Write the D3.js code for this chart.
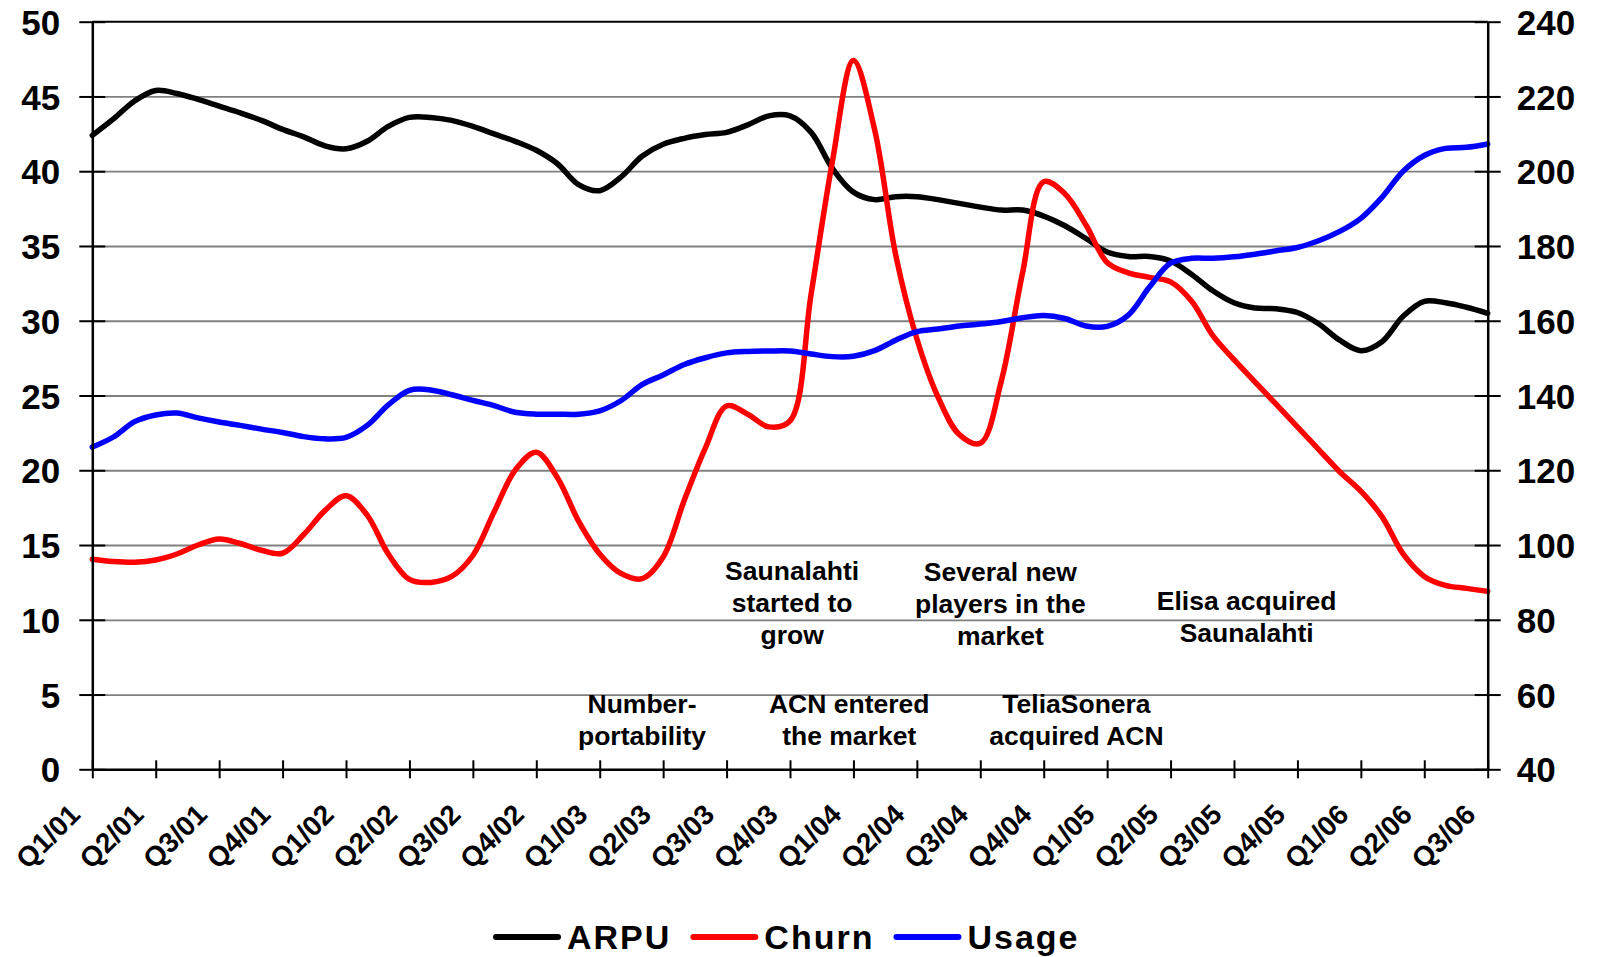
<!DOCTYPE html>
<html>
<head>
<meta charset="utf-8">
<script src="https://cdnjs.cloudflare.com/ajax/libs/d3/7.8.5/d3.min.js"></script>
<style>
  body { margin: 0; background: #fff; }
  svg { display: block; font-family: 'Liberation Sans', Arial, sans-serif; font-weight: bold; }
</style>
</head>
<body>
<svg id="chart" width="1598" height="957"></svg>
<script>
const quarters = ['Q1/01', 'Q2/01', 'Q3/01', 'Q4/01', 'Q1/02', 'Q2/02', 'Q3/02', 'Q4/02',
  'Q1/03', 'Q2/03', 'Q3/03', 'Q4/03', 'Q1/04', 'Q2/04', 'Q3/04', 'Q4/04',
  'Q1/05', 'Q2/05', 'Q3/05', 'Q4/05', 'Q1/06', 'Q2/06', 'Q3/06']

// monthly readings, Q1/01 .. Q3/06 (67 points)
const arpu = [42.4, 43.5, 44.7, 45.4, 45.2, 44.8, 44.35, 43.9, 43.4, 42.8, 42.3, 41.7,
  41.5, 42.0, 43.0, 43.6, 43.6, 43.4, 43.0, 42.5, 42.0, 41.4, 40.5, 39.1,
  38.7, 39.6, 41.0, 41.8, 42.2, 42.45, 42.6, 43.1, 43.7, 43.7, 42.6, 40.2,
  38.6, 38.1, 38.3, 38.3, 38.1, 37.85, 37.6, 37.4, 37.4, 37.0, 36.35, 35.5,
  34.6, 34.3, 34.3, 34.0, 33.1, 32.0, 31.2, 30.85, 30.8, 30.55, 29.8, 28.7,
  28.0, 28.6, 30.3, 31.3, 31.2, 30.9, 30.5]

const churn = [14.05, 13.9, 13.85, 14.0, 14.4, 15.0, 15.4, 15.1, 14.65, 14.45, 15.7, 17.3,
  18.3, 17.0, 14.4, 12.7, 12.5, 12.9, 14.3, 17.2, 20.0, 21.2, 19.5, 16.6,
  14.4, 13.1, 12.75, 14.2, 18.0, 21.5, 24.3, 23.75, 22.9, 23.3, 31.8, 40.6,
  47.4, 42.8, 34.4, 28.8, 24.9, 22.4, 21.8, 26.0, 33.2, 39.3, 38.5, 36.4,
  33.9, 33.2, 32.9, 32.6, 31.3, 29.0, 27.4, 25.9, 24.4, 22.9, 21.4, 19.9,
  18.6, 16.9, 14.4, 12.9, 12.3, 12.1, 11.9]

const usage = [126.2, 128.9, 133.0, 134.8, 135.3, 134.0, 132.9, 132.0, 131.0, 130.1, 129.0, 128.4,
  128.8, 132.0, 137.5, 141.4, 141.5, 140.2, 138.7, 137.3, 135.5, 135.0, 135.0, 135.0,
  135.9, 138.6, 142.9, 145.5, 148.3, 150.1, 151.4, 151.8, 151.9, 151.9, 151.1, 150.4,
  150.5, 152.0, 154.8, 157.1, 157.8, 158.6, 159.1, 159.8, 160.8, 161.4, 160.6, 158.6,
  158.5, 161.5, 169.0, 175.4, 176.7, 176.7, 177.1, 177.8, 178.7, 179.6, 181.4, 183.9,
  187.4, 193.0, 200.0, 204.2, 206.1, 206.4, 207.3]

const leftTicks = [0, 5, 10, 15, 20, 25, 30, 35, 40, 45, 50]
const rightTicks = [40, 60, 80, 100, 120, 140, 160, 180, 200, 220, 240]

const seriesNames = ['ARPU', 'Churn', 'Usage']
const seriesColors = ['#000000', '#ff0000', '#0000ff']

// events, anchored at (month, left-axis value) of first baseline
const notes = [
  { lines: ['Saunalahti', 'started to', 'grow'], month: 33.1, value: 12.66 },
  { lines: ['Several new', 'players in the', 'market'], month: 42.95, value: 12.6 },
  { lines: ['Elisa acquired', 'Saunalahti'], month: 54.6, value: 10.66 },
  { lines: ['Number-', 'portability'], month: 26.0, value: 3.75 },
  { lines: ['ACN entered', 'the market'], month: 35.8, value: 3.77 },
  { lines: ['TeliaSonera', 'acquired ACN'], month: 46.55, value: 3.77 }
]

const margin = { top: 21.7, left: 92.3, right: 110.3, bottom: 187.7 }
const width = 1598 - margin.left - margin.right
const height = 957 - margin.top - margin.bottom

const svg = d3.select('#chart')
const g = svg.append('g').attr('transform', `translate(${margin.left},${margin.top})`)

const x = d3.scaleLinear().domain([0, arpu.length - 1]).range([0, width])
const yLeft = d3.scaleLinear().domain([0, 50]).range([height, 0])
const yRight = d3.scaleLinear().domain([40, 240]).range([height, 0])

// gridlines
g.append('g')
  .call(d3.axisLeft(yLeft).tickValues(leftTicks.slice(1, -1)).tickSize(-width).tickFormat(''))
  .call(s => s.select('.domain').remove())
  .selectAll('line')
  .attr('stroke', '#808080')
  .attr('stroke-width', 1.8)

// top border
g.append('line')
  .attr('x1', 0).attr('x2', width)
  .attr('y1', yLeft(50)).attr('y2', yLeft(50))
  .attr('stroke', '#000').attr('stroke-width', 2)

// lines
const line = (yScale) => d3.line()
  .x((d, i) => x(i))
  .y(d => yScale(d))
  .curve(d3.curveCatmullRom.alpha(0.5))

const series = [
  { values: arpu, scale: yLeft },
  { values: churn, scale: yLeft },
  { values: usage, scale: yRight }
]

g.selectAll('.series')
  .data(series)
  .enter()
  .append('path')
  .attr('class', 'series')
  .attr('d', d => line(d.scale)(d.values))
  .attr('fill', 'none')
  .attr('stroke', (d, i) => seriesColors[i])
  .attr('stroke-width', 5.5)
  .attr('stroke-linejoin', 'round')
  .attr('stroke-linecap', 'round')

// axes
function styleAxis(sel) {
  sel.attr('font-family', null).attr('font-size', null)
  sel.select('.domain').attr('stroke', '#000').attr('stroke-width', 2.5)
  sel.selectAll('.tick line').attr('stroke', '#000').attr('stroke-width', 2)
  sel.selectAll('.tick text').attr('fill', '#000')
}

g.append('g')
  .call(d3.axisLeft(yLeft).tickValues(leftTicks).tickSize(13).tickSizeOuter(0).tickPadding(19))
  .call(styleAxis)
  .call(s => s.selectAll('.tick line').attr('x1', 13))
  .call(s => s.selectAll('.tick text').attr('font-size', 35).attr('dy', '0.36em'))

g.append('g')
  .attr('transform', `translate(${width},0)`)
  .call(d3.axisRight(yRight).tickValues(rightTicks).tickSize(13).tickSizeOuter(0).tickPadding(16))
  .call(styleAxis)
  .call(s => s.selectAll('.tick line').attr('x1', -13))
  .call(s => s.selectAll('.tick text').attr('font-size', 35).attr('dy', '0.36em'))

g.append('g')
  .attr('transform', `translate(0,${height})`)
  .call(d3.axisBottom(x)
    .tickValues(quarters.map((q, i) => i * 3))
    .tickFormat((d, i) => quarters[i])
    .tickSize(9)
    .tickSizeOuter(0))
  .call(styleAxis)
  .call(s => s.selectAll('.tick line').attr('y1', -9))
  .call(s => s.selectAll('.tick text')
    .attr('font-size', 28)
    .attr('y', 0)
    .attr('dy', 0)
    .attr('text-anchor', 'end')
    .attr('transform', 'translate(-11,47) rotate(-45)'))

// annotations
notes.forEach(n => {
  const t = g.append('text')
    .attr('text-anchor', 'middle')
    .attr('font-size', 26.5)
    .attr('fill', '#000')
  n.lines.forEach((l, i) => {
    t.append('tspan')
      .attr('x', x(n.month))
      .attr('y', yLeft(n.value) + i * 32)
      .text(l)
  })
})

// legend
const legend = svg.append('g').attr('transform', 'translate(496,937)')
let lx = 0
seriesNames.forEach((name, i) => {
  legend.append('line')
    .attr('x1', lx).attr('x2', lx + 62)
    .attr('stroke', seriesColors[i])
    .attr('stroke-width', 6)
    .attr('stroke-linecap', 'round')
  const t = legend.append('text')
    .attr('x', lx + 71)
    .attr('y', 12)
    .attr('font-size', 34)
    .attr('letter-spacing', 2)
    .text(name)
  lx += 71 + t.node().getComputedTextLength() + 22
})
</script>
</body>
</html>
